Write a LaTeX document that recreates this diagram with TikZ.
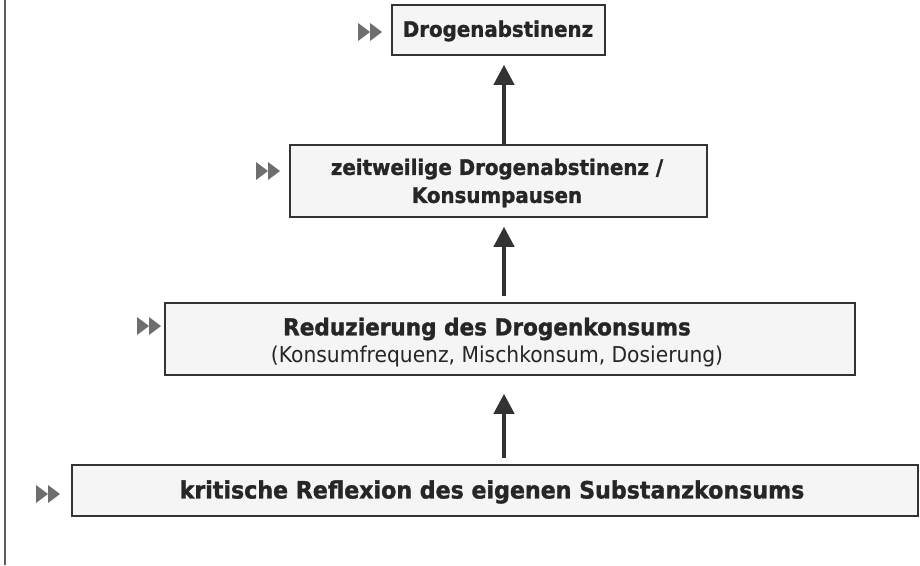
\documentclass[tikz,border=0pt]{standalone}
\usepackage{fontspec}
\setmainfont{DejaVu Sans}[FakeStretch=0.93, BoldFeatures={FakeBold=1.4}]
\usetikzlibrary{arrows.meta,calc}
\definecolor{boxfill}{HTML}{F5F5F5}
\definecolor{boxline}{HTML}{333333}
\definecolor{bulgray}{HTML}{6E6E6E}
\tikzset{
  stepbox/.style={draw=boxline, line width=1.5pt, fill=boxfill, inner sep=0pt},
  txt/.style={align=center, text=black!85, inner sep=0pt},
  uparrow/.style={draw=boxline, line width=4pt, -{Triangle[width=20pt,length=20pt]}},
  ffbullet/.pic={
    \fill[bulgray] (-12,-9) -- (0,0) -- (-12,9) -- cycle;
    \fill[bulgray] (0,-9) -- (12,0) -- (0,9) -- cycle;
  }
}
\begin{document}
\begin{tikzpicture}[x=1pt,y=-1pt]
\useasboundingbox (0,0) rectangle (920,565);
\fill[white] (0,0) rectangle (920,565);
\draw[boxline!80, line width=1.2pt] (5,0) -- (5,565);

% boxes
\node[stepbox, minimum width=213pt, minimum height=50pt] (b1) at (498.5,30) {};
\node[stepbox, minimum width=417pt, minimum height=72pt] (b2) at (498.5,181) {};
\node[stepbox, minimum width=690pt, minimum height=72pt] (b3) at (510,339) {};
\node[stepbox, minimum width=846pt, minimum height=51pt] (b4) at (495,490.5) {};
\coordinate (ax) at (504,0);

% texts
\node[txt, font=\bfseries\fontsize{21.3}{22}\selectfont] (t1) at (498,31) {Drogenabstinenz};
\node[txt, font=\bfseries\fontsize{21.3}{28}\selectfont] (t2) at (497,183) {zeitweilige Drogenabstinenz /\\Konsumpausen};
\node[txt, font=\bfseries\fontsize{23.2}{26}\selectfont] (t3) at (487,329) {Reduzierung des Drogenkonsums};
\node[txt, font=\fontsize{21.8}{26}\selectfont] (t3b) at (497,356) {(Konsumfrequenz, Mischkonsum, Dosierung)};
\node[txt, font=\bfseries\fontsize{23.8}{26}\selectfont] (t4) at (492,492) {kritische Reflexion des eigenen Substanzkonsums};

% bullets
\pic at (370,32) {ffbullet};
\pic at (268,171) {ffbullet};
\pic at (149,326) {ffbullet};
\pic at (48,494) {ffbullet};

% arrows
\draw[uparrow] (b2.north -| ax) -- ($(b1.south -| ax)+(0,9)$);
\draw[uparrow] ($(b3.north -| ax)+(0,-6)$) -- ($(b2.south -| ax)+(0,9)$);
\draw[uparrow] ($(b4.north -| ax)+(0,-6)$) -- ($(b3.south -| ax)+(0,18)$);
\end{tikzpicture}
\end{document}
